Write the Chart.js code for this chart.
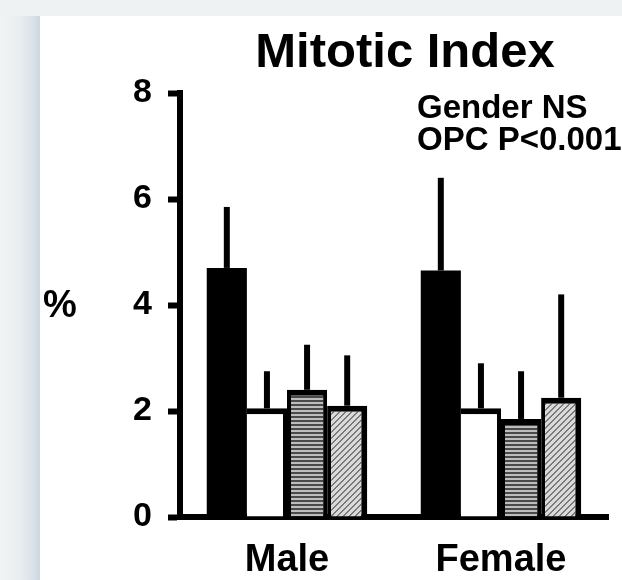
<!DOCTYPE html>
<html>
<head>
<meta charset="utf-8">
<script src="https://cdn.jsdelivr.net/npm/chart.js@4.4.1/dist/chart.umd.min.js"></script>
<style>
  body { margin: 0; }
  #page {
    position: relative; width: 622px; height: 580px; overflow: hidden;
    background: linear-gradient(to right, #f1f4f4 0px, #e8edf0 20px, #d8e0e8 34px, #ccd5e1 40px);
  }
  #strip { position: absolute; left: 0; top: 0; width: 622px; height: 16px; background: #eef2f2; }
  #panel { position: absolute; left: 40px; top: 16px; right: 0; bottom: 0; background: #fff; }
  #mitotic { position: absolute; left: 0; top: 0; }
</style>
</head>
<body>
<div id="page">
  <div id="strip"></div>
  <div id="panel"></div>
  <canvas id="mitotic" width="622" height="580"></canvas>
</div>
<script>
const genders = ['Male', 'Female'];

// means and SD for the four OPC groups
const solidMean = [4.7, 4.65];
const solidSD = [1.15, 1.75];
const openMean = [2.05, 2.05];
const openSD = [0.7, 0.85];
const stripeMean = [2.4, 1.85];
const stripeSD = [0.85, 0.9];
const hatchMean = [2.1, 2.25];
const hatchSD = [0.95, 1.95];

const titleText = 'Mitotic Index';
const notes = ['Gender NS', 'OPC P<0.001'];
const unitLabel = '%';

const FONT = '"Liberation Sans", Arial, Helvetica, sans-serif';
Chart.defaults.font.family = FONT;
Chart.defaults.color = '#000';

function stripePattern() {
    const c = document.createElement('canvas');
    c.width = 4; c.height = 4;
    const g = c.getContext('2d');
    g.fillStyle = '#bdbdbd';
    g.fillRect(0, 0, 4, 4);
    g.fillStyle = '#4a4a4a';
    g.fillRect(0, 0, 4, 2);
    return g.createPattern(c, 'repeat');
}

function hatchPattern() {
    const c = document.createElement('canvas');
    c.width = 6; c.height = 6;
    const g = c.getContext('2d');
    g.fillStyle = '#dadada';
    g.fillRect(0, 0, 6, 6);
    g.fillStyle = '#7a7a7a';
    for (let x = 0; x < 6; x++) {
        for (let y = 0; y < 6; y++) {
            if ((x + y) % 6 < 2) g.fillRect(x, y, 1, 1);
        }
    }
    return g.createPattern(c, 'repeat');
}

// upper error bar only, from bar top to mean + SD
const errorBars = {
    id: 'errorBars',
    afterDatasetsDraw(chart) {
        const ctx = chart.ctx;
        const y = chart.scales.y;
        ctx.save();
        ctx.strokeStyle = '#000';
        ctx.lineWidth = 6;
        chart.data.datasets.forEach((ds, i) => {
            chart.getDatasetMeta(i).data.forEach((bar, j) => {
                const top = y.getPixelForValue(ds.data[j] + ds.sd[j]);
                ctx.beginPath();
                ctx.moveTo(bar.x, bar.y);
                ctx.lineTo(bar.x, top);
                ctx.stroke();
            });
        });
        ctx.restore();
    }
};

const textLabels = {
    id: 'textLabels',
    afterDraw(chart) {
        const ctx = chart.ctx;
        ctx.save();
        ctx.fillStyle = '#000';
        ctx.textBaseline = 'alphabetic';
        ctx.font = 'bold 49px ' + FONT;
        ctx.textAlign = 'center';
        ctx.fillText(titleText, 405, 67);
        ctx.font = 'bold 33px ' + FONT;
        ctx.textAlign = 'left';
        notes.forEach((t, i) => ctx.fillText(t, 417, 118 + i * 32));
        ctx.font = 'bold 38px ' + FONT;
        ctx.fillText(unitLabel, 43, 317);
        ctx.restore();
    }
};

const edge = { top: 6, left: 4, right: 4, bottom: 0 };

new Chart(document.getElementById('mitotic'), {
    type: 'bar',
    data: {
        labels: genders,
        datasets: [
            { data: solidMean, sd: solidSD, backgroundColor: '#000', borderWidth: 0 },
            { data: openMean, sd: openSD, backgroundColor: '#fff', borderColor: '#000', borderWidth: { top: 6, left: 0, right: 4, bottom: 0 } },
            { data: stripeMean, sd: stripeSD, backgroundColor: stripePattern(), borderColor: '#000', borderWidth: edge },
            { data: hatchMean, sd: hatchSD, backgroundColor: hatchPattern(), borderColor: '#000', borderWidth: { top: 6, left: 4, right: 6, bottom: 0 } }
        ]
    },
    options: {
        responsive: false,
        animation: false,
        devicePixelRatio: 1,
        layout: { padding: { top: 93, right: 14, left: 0, bottom: 0 } },
        datasets: { bar: { categoryPercentage: 0.75, barPercentage: 1 } },
        plugins: {
            legend: { display: false },
            tooltip: { enabled: false }
        },
        scales: {
            x: {
                z: 1,
                grid: { display: false, drawTicks: false },
                border: { display: true, width: 6, color: '#000' },
                ticks: { color: '#000', padding: 21, font: { size: 38, weight: 'bold' } },
                afterFit(scale) { scale.height = 63; }
            },
            y: {
                z: 1,
                min: 0,
                max: 8,
                ticks: { stepSize: 2, color: '#000', padding: 16, font: { size: 34, weight: 'bold' } },
                grid: { drawOnChartArea: false, tickLength: 12, tickWidth: 6, tickColor: '#000' },
                border: { display: true, width: 6, color: '#000' },
                afterFit(scale) { scale.width = 180; }
            }
        }
    },
    plugins: [errorBars, textLabels]
});
</script>
</body>
</html>
